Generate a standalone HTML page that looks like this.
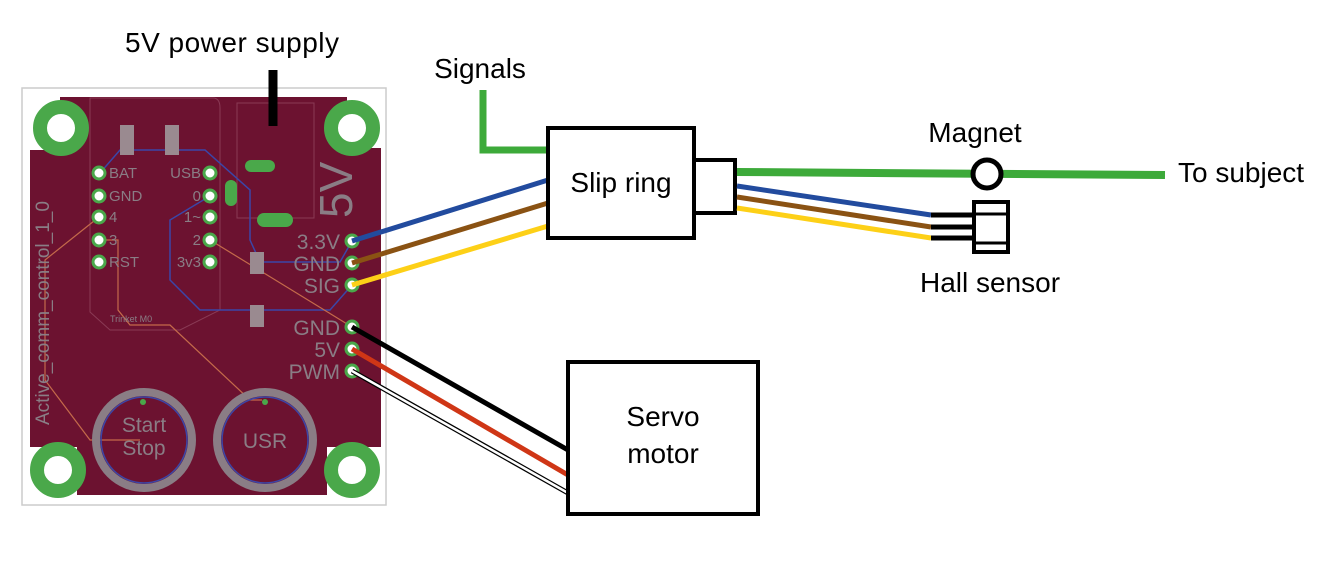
<!DOCTYPE html>
<html><head><meta charset="utf-8"><style>
html,body{margin:0;padding:0;background:#fff;width:1337px;height:567px;overflow:hidden}
svg{display:block}
text{font-family:"Liberation Sans",sans-serif}
</style></head><body>
<svg width="1337" height="567" viewBox="0 0 1337 567">
<rect x="22" y="88" width="364" height="417" fill="none" stroke="#ccc" stroke-width="1.5"/>
<path d="M60,97 H347 V148 H381 V447 H327 V495 H77 V447 H30 V150 H60 Z" fill="#6c1230"/>
<path d="M90,98 H213 Q220,98 220,108 V310 L180,330 H110 L90,312 Z" fill="none" stroke="#8a3a55" stroke-width="1"/>
<rect x="237" y="103" width="77" height="115" fill="none" stroke="#8a3a55" stroke-width="1"/>
<path d="M100,173 L120,150 H205 L250,190 V240 L260,262 H340 L352,241" fill="none" stroke="#3b46a8" stroke-width="1.5"/>
<path d="M210,196 L170,220 V280 L200,310 H330 L352,285" fill="none" stroke="#3b46a8" stroke-width="1.5"/>
<path d="M99,217 L45,260 V380 L90,440 H140" fill="none" stroke="#c46a4a" stroke-width="1.2"/>
<path d="M99,240 H118 V310 L130,325 H170 L250,400 H262" fill="none" stroke="#c46a4a" stroke-width="1.2"/>
<path d="M210,240 L352,327" fill="none" stroke="#c46a4a" stroke-width="1.2"/>
<text x="0" y="0" transform="translate(352,218) rotate(-90)" font-size="46" fill="#8a7d85">5V</text>
<text x="0" y="0" transform="translate(49,425) rotate(-90)" font-size="19" fill="#8a7d85">Active_comm_control_1_0</text>
<g fill="#fff" stroke="#4aa84a" stroke-width="14">
<circle cx="61" cy="128" r="21"/><circle cx="352" cy="128" r="21"/>
<circle cx="58" cy="470" r="21"/><circle cx="352" cy="470" r="21"/>
</g>
<g fill="#fff" stroke="#4aa84a" stroke-width="3">
<circle cx="99" cy="173" r="6"/><circle cx="99" cy="196" r="6"/><circle cx="99" cy="217" r="6"/><circle cx="99" cy="240" r="6"/><circle cx="99" cy="262" r="6"/>
<circle cx="210" cy="173" r="6"/><circle cx="210" cy="196" r="6"/><circle cx="210" cy="217" r="6"/><circle cx="210" cy="240" r="6"/><circle cx="210" cy="262" r="6"/>
<circle cx="352" cy="241" r="6"/><circle cx="352" cy="263" r="6"/><circle cx="352" cy="285" r="6"/>
<circle cx="352" cy="327" r="6"/><circle cx="352" cy="349" r="6"/><circle cx="352" cy="371" r="6"/>
</g>
<g fill="#4aa84a"><rect x="245" y="160" width="30" height="12" rx="6"/><rect x="257" y="213" width="36" height="14" rx="7"/><rect x="225" y="180" width="12" height="26" rx="6"/></g>
<g fill="#9a8a90"><rect x="120" y="125" width="14" height="30"/><rect x="165" y="125" width="14" height="30"/><rect x="250" y="252" width="14" height="22"/><rect x="250" y="305" width="14" height="22"/></g>
<g font-size="15" fill="#8a7d85">
<text x="109" y="178">BAT</text><text x="109" y="201">GND</text><text x="109" y="222">4</text><text x="109" y="245">3</text><text x="109" y="267">RST</text>
<text x="201" y="178" text-anchor="end">USB</text><text x="201" y="201" text-anchor="end">0</text><text x="201" y="222" text-anchor="end">1~</text><text x="201" y="245" text-anchor="end">2</text><text x="201" y="267" text-anchor="end">3v3</text>
<text x="110" y="322" font-size="9">Trinket M0</text>
</g>
<g font-size="21" fill="#8a7d85" text-anchor="end">
<text x="340" y="249">3.3V</text><text x="340" y="271">GND</text><text x="340" y="293">SIG</text>
<text x="340" y="335">GND</text><text x="340" y="357">5V</text><text x="340" y="379">PWM</text>
</g>
<g fill="none"><circle cx="144" cy="440" r="48" stroke="#8a7d85" stroke-width="8"/><circle cx="144" cy="440" r="43" stroke="#3b46a8" stroke-width="1.5"/>
<circle cx="265" cy="440" r="48" stroke="#8a7d85" stroke-width="8"/><circle cx="265" cy="440" r="43" stroke="#3b46a8" stroke-width="1.5"/></g>
<g font-size="21" fill="#8a7d85" text-anchor="middle"><text x="144" y="432">Start</text><text x="144" y="455">Stop</text><text x="265" y="448">USR</text></g>
<circle cx="143" cy="402" r="3" fill="#4aa84a"/><circle cx="265" cy="402" r="3" fill="#4aa84a"/>
<line x1="273" y1="70" x2="273" y2="126" stroke="#000" stroke-width="9"/>
<text x="232" y="52" font-size="28" text-anchor="middle" fill="#000" textLength="214">5V power supply</text>
<polyline points="483,90 483,150 548,150" fill="none" stroke="#3daa3a" stroke-width="7"/>
<text x="480" y="78" font-size="28" text-anchor="middle" fill="#000">Signals</text>
<line x1="352" y1="241" x2="548" y2="180" stroke="#224b9e" stroke-width="5"/>
<line x1="352" y1="263" x2="548" y2="203" stroke="#8a5213" stroke-width="5"/>
<line x1="352" y1="285" x2="548" y2="226" stroke="#fdd017" stroke-width="5"/>
<rect x="548" y="128" width="146" height="110" fill="#fff" stroke="#000" stroke-width="4"/>
<rect x="694" y="160" width="41" height="53" fill="#fff" stroke="#000" stroke-width="4"/>
<text x="621" y="192" font-size="28" text-anchor="middle">Slip ring</text>
<line x1="737" y1="172" x2="1165" y2="175" stroke="#3daa3a" stroke-width="8"/>
<circle cx="987" cy="174" r="14" fill="#fff" stroke="#000" stroke-width="5"/>
<text x="975" y="142" font-size="28" text-anchor="middle">Magnet</text>
<text x="1178" y="182" font-size="28">To subject</text>
<line x1="737" y1="186" x2="931" y2="215" stroke="#224b9e" stroke-width="5"/>
<line x1="737" y1="197" x2="931" y2="227" stroke="#8a5213" stroke-width="5"/>
<line x1="737" y1="208" x2="931" y2="238" stroke="#fdd017" stroke-width="5"/>
<g stroke="#000" stroke-width="5"><line x1="931" y1="215" x2="972" y2="215"/><line x1="931" y1="227" x2="972" y2="227"/><line x1="931" y1="238" x2="972" y2="238"/></g>
<rect x="974" y="202" width="34" height="50" fill="#fff" stroke="#000" stroke-width="4"/>
<line x1="974" y1="214" x2="1008" y2="214" stroke="#000" stroke-width="3"/>
<line x1="974" y1="243" x2="1008" y2="243" stroke="#000" stroke-width="3"/>
<text x="990" y="292" font-size="28" text-anchor="middle">Hall sensor</text>
<line x1="352" y1="327" x2="568" y2="450" stroke="#000" stroke-width="5"/>
<line x1="352" y1="349" x2="568" y2="475" stroke="#cf3616" stroke-width="5"/>
<line x1="352" y1="371" x2="568" y2="493" stroke="#000" stroke-width="5"/>
<line x1="352" y1="371" x2="568" y2="493" stroke="#fff" stroke-width="2.5"/>
<rect x="568" y="362" width="190" height="152" fill="#fff" stroke="#000" stroke-width="4"/>
<text x="663" y="426" font-size="28" text-anchor="middle">Servo</text>
<text x="663" y="463" font-size="28" text-anchor="middle">motor</text>
</svg>
</body></html>
